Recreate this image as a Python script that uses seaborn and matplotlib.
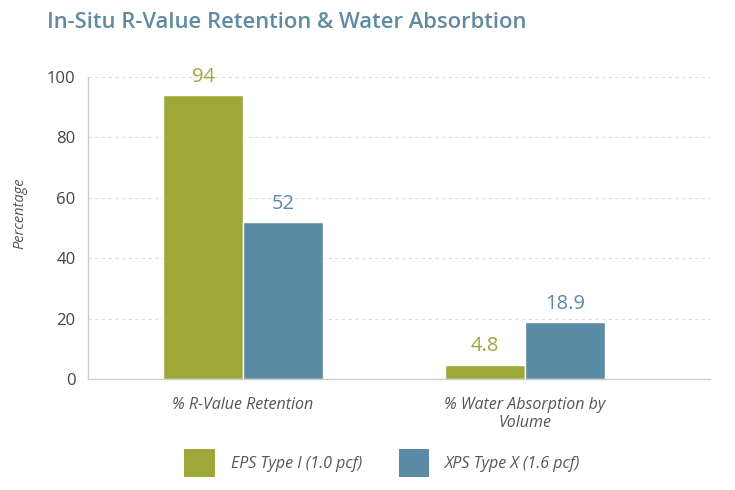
import matplotlib
matplotlib.use('Agg')
from matplotlib import pyplot as plt
from matplotlib.patches import Patch
import seaborn as sns
import pandas as pd

categories = ['% R-Value Retention', '% Water Absorption by\nVolume']
series = ['EPS Type I (1.0 pcf)', 'XPS Type X (1.6 pcf)']
eps_values = [94, 4.8]
xps_values = [52, 18.9]
value_labels = [['94', '4.8'], ['52', '18.9']]
colors = ['#9ea838', '#5b8aa5']

df = pd.DataFrame({
    'category': categories * 2,
    'series': [series[0]] * 2 + [series[1]] * 2,
    'value': eps_values + xps_values,
})

sns.set_theme(style='white')
plt.rcParams['font.family'] = ['Open Sans', 'DejaVu Sans']

fig = plt.figure(figsize=(7.35, 4.9), dpi=100)
ax = fig.add_axes([88 / 735, 1 - 379 / 490, 622 / 735, 302 / 490])

sns.barplot(data=df, x='category', y='value', hue='series', palette=colors,
            width=0.567, saturation=1, ax=ax, legend=False)

ax.set_ylim(0, 100)
ax.set_xlim(-0.55, 1.656)
ax.set_yticks([0, 20, 40, 60, 80, 100])
ax.yaxis.grid(True, linestyle=(0, (3, 3)), color='#dddddd', linewidth=0.8)
ax.set_axisbelow(True)
for s in ['top', 'right']:
    ax.spines[s].set_visible(False)
for s in ['left', 'bottom']:
    ax.spines[s].set_color('#cccccc')
    ax.spines[s].set_linewidth(1)

ax.tick_params(axis='y', labelsize=12, labelcolor='#444444', length=0, pad=9)
ax.tick_params(axis='x', labelsize=11.5, labelcolor='#555555', length=0, pad=13)
for lbl in ax.get_xticklabels():
    lbl.set_fontstyle('italic')
ax.set_xlabel('')
ax.set_ylabel('Percentage', fontsize=10.5, color='#555555', style='italic')
ax.yaxis.set_label_coords(-0.098, 0.55)

for i, cont in enumerate(ax.containers):
    ax.bar_label(cont, labels=value_labels[i], padding=6, fontsize=14.5,
                 color=colors[i], fontweight='medium')

fig.text(47 / 735, 1 - 22 / 490, 'In-Situ R-Value Retention & Water Absorbtion',
         fontsize=15.8, color='#5f8aa1', fontweight='semibold', va='center')

handles = [Patch(facecolor=c, edgecolor='none') for c in colors]
leg = fig.legend(handles, series, loc='center', bbox_to_anchor=(0.52, 1 - 463 / 490),
                 ncol=2, frameon=False, fontsize=11.5, handlelength=1.9, handleheight=2.4,
                 columnspacing=2.3, handletextpad=1.0)
for t in leg.get_texts():
    t.set_fontstyle('italic')
    t.set_color('#555555')

fig.savefig('out.png', dpi=100)
